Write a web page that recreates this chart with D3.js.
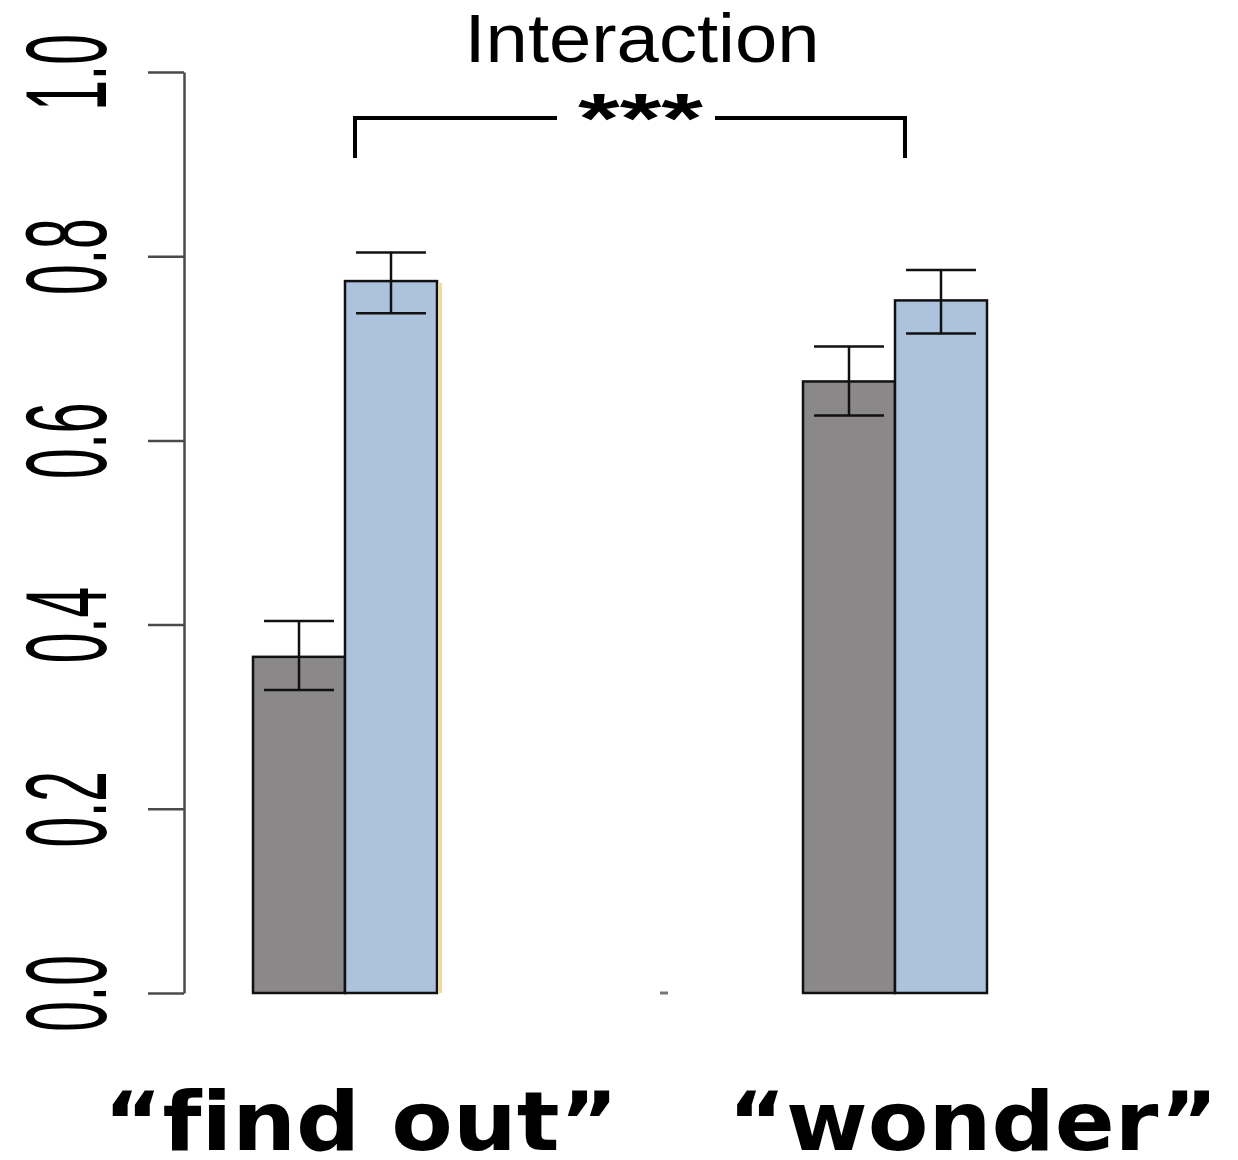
<!DOCTYPE html>
<html>
<head>
<meta charset="utf-8">
<script src="https://cdn.jsdelivr.net/npm/d3@7"></script>
<style>
  body { margin: 0; background: #ffffff; }
</style>
</head>
<body>
<div id="chart"></div>
<script>
// dados
var categories = ["“find out”", "“wonder”"];
var conditions = ["cond1", "cond2"];
var means = [[0.365, 0.773], [0.664, 0.752]];
var upper = [[0.404, 0.804], [0.702, 0.785]];
var lower = [[0.329, 0.738], [0.627, 0.716]];
var yTicks = [0, 0.2, 0.4, 0.6, 0.8, 1.0];
var colors = ["#8a8888", "#adc2dd"];

var svg = d3.select('#chart').append('svg')
  .attr('width', 1238)
  .attr('height', 1160);

var y = d3.scaleLinear().domain([0, 1]).range([993, 72]);
var xGroup = d3.scalePoint().domain(categories).range([345, 895]);
var xBar = d3.scaleBand().domain(conditions).range([-92, 92]);

// eixo Y
var axis = svg.append('g')
  .attr('transform', 'translate(184,0)')
  .call(d3.axisLeft(y).tickValues(yTicks).tickSize(36).tickSizeOuter(0)
    .tickFormat(d3.format('.1f')));
axis.select('.domain').attr('stroke', '#4a4a4a').attr('stroke-width', 2.5);
axis.selectAll('.tick line').attr('stroke', '#4a4a4a').attr('stroke-width', 2.5);
// rotulos girados e esticados (como no original)
axis.selectAll('.tick text')
  .attr('x', null).attr('dy', null)
  .attr('transform', 'translate(-78,0) rotate(-90) scale(1,2.1)')
  .attr('text-anchor', 'middle')
  .attr('font-family', 'Liberation Sans, Arial, sans-serif')
  .attr('font-size', 55)
  .attr('fill', '#000');

// barras
var groups = svg.selectAll('.grp')
  .data(categories)
  .enter().append('g')
  .attr('transform', function(d) { return 'translate(' + xGroup(d) + ',0)'; });

groups.each(function(cat, gi) {
  var g = d3.select(this);
  conditions.forEach(function(c, ci) {
    g.append('rect')
      .attr('x', xBar(c))
      .attr('y', y(means[gi][ci]))
      .attr('width', xBar.bandwidth())
      .attr('height', y(0) - y(means[gi][ci]))
      .attr('fill', colors[ci])
      .attr('stroke', '#111')
      .attr('stroke-width', 2.5);
  });
});

// borda amarelada na primeira barra azul
svg.append('line')
  .attr('x1', xGroup(categories[0]) + xBar(conditions[1]) + xBar.bandwidth() + 3)
  .attr('x2', xGroup(categories[0]) + xBar(conditions[1]) + xBar.bandwidth() + 3)
  .attr('y1', y(means[0][1]) + 2).attr('y2', y(0))
  .attr('stroke', '#efd9a6').attr('stroke-width', 4);

// barras de erro
groups.each(function(cat, gi) {
  var g = d3.select(this);
  conditions.forEach(function(c, ci) {
    var cx = xBar(c) + xBar.bandwidth() / 2;
    var hw = xBar.bandwidth() * 0.38;
    g.append('line')
      .attr('x1', cx).attr('x2', cx)
      .attr('y1', y(upper[gi][ci])).attr('y2', y(lower[gi][ci]))
      .attr('stroke', '#111').attr('stroke-width', 2.5);
    [upper[gi][ci], lower[gi][ci]].forEach(function(v) {
      g.append('line')
        .attr('x1', cx - hw).attr('x2', cx + hw)
        .attr('y1', y(v)).attr('y2', y(v))
        .attr('stroke', '#111').attr('stroke-width', 2.5);
    });
  });
});

// pontinho no eixo x
svg.append('line')
  .attr('x1', 660).attr('x2', 668)
  .attr('y1', y(0)).attr('y2', y(0))
  .attr('stroke', '#777').attr('stroke-width', 3);

// colchete de significancia
var bx1 = xGroup(categories[0]) + 10, bx2 = xGroup(categories[1]) + 10;
svg.append('path')
  .attr('d', 'M' + bx1 + ',158 V118 H557 M715,118 H' + bx2 + ' V158')
  .attr('fill', 'none')
  .attr('stroke', '#000')
  .attr('stroke-width', 4);

svg.append('text')
  .attr('x', 640.5)
  .attr('y', 143)
  .attr('text-anchor', 'middle')
  .attr('font-family', 'Liberation Sans, Arial, sans-serif')
  .attr('font-weight', 'bold')
  .attr('font-size', 70)
  .attr('textLength', 125)
  .attr('lengthAdjust', 'spacingAndGlyphs')
  .text('***');

// titulo
svg.append('text')
  .attr('x', 642)
  .attr('y', 62)
  .attr('text-anchor', 'middle')
  .attr('font-family', 'Liberation Sans, Arial, sans-serif')
  .attr('font-size', 68)
  .attr('textLength', 355)
  .attr('lengthAdjust', 'spacingAndGlyphs')
  .text('Interaction');

// rotulos das categorias
var labelWidths = [515, 490];
var labelCenters = [361, 973];
svg.selectAll('.cat')
  .data(categories)
  .enter().append('text')
  .attr('x', function(d, i) { return labelCenters[i]; })
  .attr('y', 1150)
  .attr('text-anchor', 'middle')
  .attr('font-family', 'DejaVu Sans, Verdana, sans-serif')
  .attr('font-weight', 'bold')
  .attr('font-size', 82)
  .style('font-variant-ligatures', 'none')
  .attr('textLength', function(d, i) { return labelWidths[i]; })
  .attr('lengthAdjust', 'spacingAndGlyphs')
  .text(function(d) { return d; });
</script>
</body>
</html>
